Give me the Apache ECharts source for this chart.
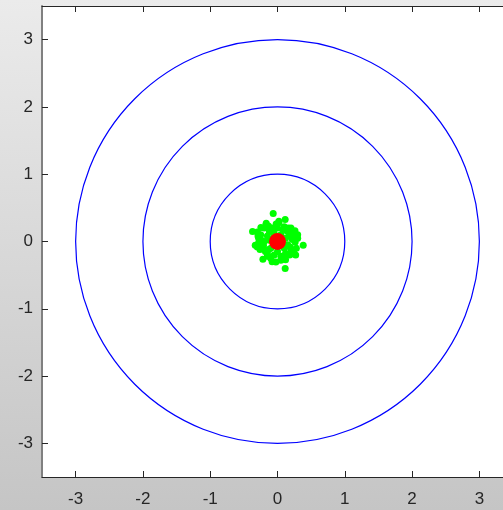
<!DOCTYPE html>
<html>
<head>
<meta charset="utf-8">
<script src="https://cdn.jsdelivr.net/npm/echarts@6/dist/echarts.min.js"></script>
<style>
html,body{margin:0;padding:0;overflow:hidden;}
#c{width:503px;height:510px;background:linear-gradient(to bottom,#ebebeb 0%,#c5c5c5 100%);}
</style>
</head>
<body>
<div id="c"></div>
<script>
const tickValues = [-3, -2, -1, 0, 1, 2, 3];
const radii = [1, 2, 3];
const greenX = [-0.064, 0.114, 0.02, -0.168, -0.247, -0.371, -0.29, -0.331, 0.382, 0.223, 0.263, 0.14, -0.217, -0.024, 0.114, 0.189, -0.134, -0.208, -0.149, 0.089,
  0.05, -0.05, 0.12, -0.12, 0.1, -0.1, 0.0, 0.15, -0.15, 0.08, -0.08, 0.18, -0.2, 0.2, -0.05, 0.05, -0.18, 0.15, -0.12, 0.22, -0.22, 0.0, 0.1, -0.15, 0.12, 0.25, -0.25, 0.03, -0.03, 0.07, -0.07, 0.0, 0.18, -0.1, 0.05, 0.2, -0.28, 0.28, 0.16, -0.3, 0.3, -0.02, 0.24, -0.24,
  -0.2, 0.22, -0.26, 0.27, -0.17, 0.12, -0.08, 0.19, -0.3, 0.02, 0.26, -0.13, -0.28, 0.3];
const greenY = [0.416, 0.327, 0.28, 0.272, 0.208, 0.149, 0.083, -0.055, -0.055, 0.123, -0.006, 0.158, -0.263, -0.303, -0.401, -0.189, 0.232, -0.065, -0.189, -0.214,
  0.1, 0.12, 0.05, 0.02, -0.1, -0.1, -0.15, -0.05, 0.08, 0.18, 0.2, 0.1, 0.0, -0.12, -0.2, -0.22, -0.15, 0.15, 0.15, 0.03, -0.05, 0.2, 0.22, -0.22, -0.18, 0.08, 0.1, 0.05, -0.05, -0.03, 0.04, 0.0, -0.2, -0.25, -0.28, 0.2, 0.05, -0.1, 0.2, -0.08, 0.05, 0.26, -0.16, 0.02,
  0.2, 0.14, -0.12, -0.2, 0.25, -0.27, -0.3, -0.08, 0.14, 0.3, 0.16, -0.12, -0.02, 0.1];
const redPoint = [[0, 0]];

const chart = echarts.init(document.getElementById('c'), null, {renderer: 'canvas'});
const labelStyle = {color: '#262626', fontSize: 17, fontFamily: 'Liberation Sans, Arial, sans-serif'};
const tickStyle = {show: true, inside: true, length: 6, customValues: tickValues, lineStyle: {color: '#262626', width: 1}};
const axisBase = {
  type: 'value', min: -3.5, max: 3.5,
  splitLine: {show: false}
};
const greenData = greenX.map((x, i) => [x, greenY[i]]);

chart.setOption({
  backgroundColor: 'transparent',
  animation: false,
  grid: {left: 42, top: 6, height: 471, width: 471, outerBoundsMode: 'none', containLabel: false,
    backgroundColor: '#ffffff', show: true, borderWidth: 0},
  xAxis: [
    Object.assign({}, axisBase, {position: 'bottom',
      axisLine: {show: true, onZero: false, lineStyle: {color: '#262626', width: 1}},
      axisTick: tickStyle,
      axisLabel: Object.assign({customValues: tickValues, margin: 14, formatter: v => String(v)}, labelStyle)}),
    Object.assign({}, axisBase, {position: 'top',
      axisLine: {show: true, onZero: false, lineStyle: {color: '#262626', width: 1}},
      axisTick: tickStyle,
      axisLabel: {show: false}})
  ],
  yAxis: [
    Object.assign({}, axisBase, {position: 'left',
      axisLine: {show: true, onZero: false, lineStyle: {color: '#808080', width: 2}},
      axisTick: tickStyle,
      axisLabel: Object.assign({customValues: tickValues, margin: 9, formatter: v => String(v)}, labelStyle)})
  ],
  series: [
    {
      type: 'custom',
      xAxisIndex: 0, yAxisIndex: 0,
      data: radii.map(r => [r, 0]),
      clip: true,
      renderItem: function (params, api) {
        const c = api.coord([0, 0]);
        const r = api.size([api.value(0), 0])[0];
        return {type: 'circle', shape: {cx: c[0], cy: c[1], r: r},
          style: {fill: 'none', stroke: '#0000ff', lineWidth: 1.2}};
      },
      z: 2
    },
    {
      type: 'scatter', xAxisIndex: 0, yAxisIndex: 0,
      data: greenData, symbolSize: 7,
      itemStyle: {color: '#00ff00', opacity: 1}, z: 3
    },
    {
      type: 'scatter', xAxisIndex: 0, yAxisIndex: 0,
      data: redPoint, symbolSize: 17,
      itemStyle: {color: '#ff0000', opacity: 1}, z: 4
    }
  ]
});
</script>
</body>
</html>
